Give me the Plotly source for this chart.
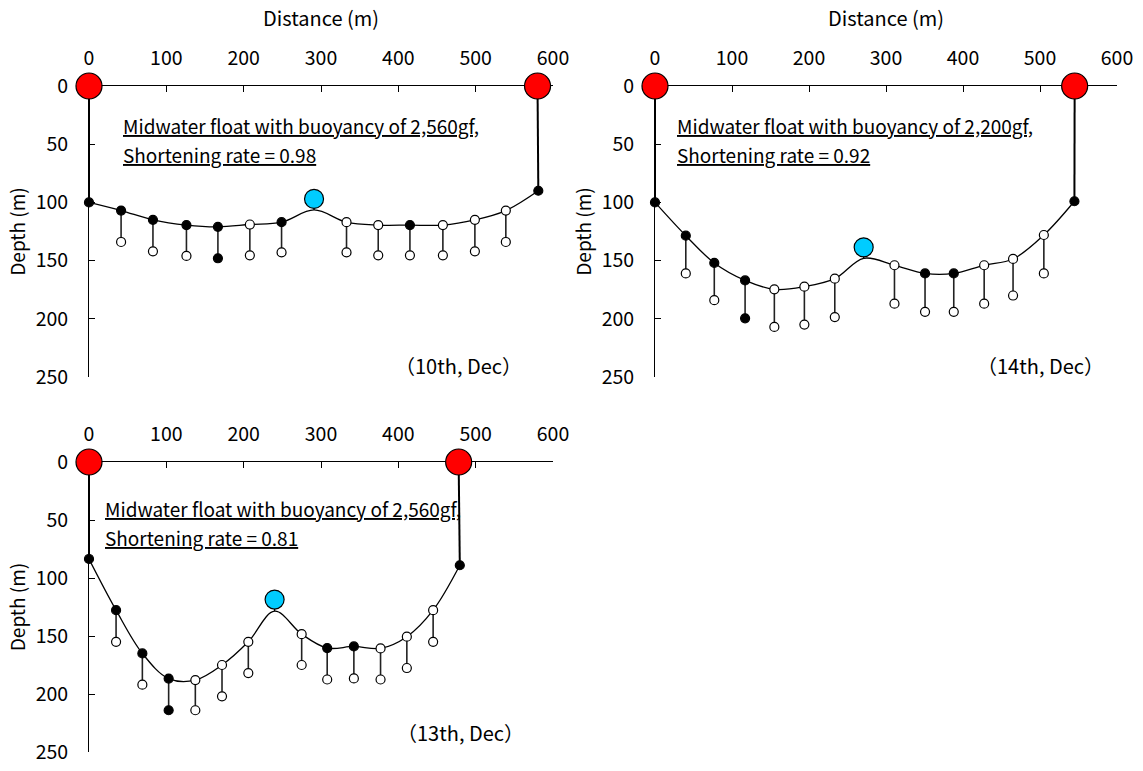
import plotly.graph_objects as go

# ---------------- data ----------------
# Panel A : 10th Dec
A_NODE_X = [0, 41.5, 82.7, 126, 166.7, 208, 249, 333, 374, 415, 457.6, 499, 539, 581]
A_NODE_DEPTH = [100, 107, 115, 119.5, 121, 119, 117, 117, 119.5, 119.5, 119.5, 115, 107, 90]
A_NODE_FILLED = [1, 1, 1, 1, 1, 0, 1, 0, 0, 1, 0, 0, 0, 1]
A_PEND_DEPTH = [134, 142, 146, 148, 145.5, 143, 143, 145.5, 145.5, 145.5, 142, 134]
A_PEND_FILLED = [0, 0, 0, 1, 0, 0, 0, 0, 0, 0, 0, 0]
A_PEAK = (291, 106.5)
A_FLOAT_DEPTH = 97
A_ANCHOR_X = [0, 580]
A_TEXT = ["Midwater float with buoyancy of 2,560gf,", "Shortening rate = 0.98"]
A_DATE = "（10th, Dec）"

# Panel B : 14th Dec
B_NODE_X = [0, 40, 77, 117, 155, 194, 233.5, 311, 350.7, 388, 427.5, 465, 505, 544.7]
B_NODE_DEPTH = [100, 128.6, 152, 167, 174.7, 172.4, 165.5, 154, 161, 161, 154, 148.6, 128, 99]
B_NODE_FILLED = [1, 1, 1, 1, 0, 0, 0, 0, 1, 1, 0, 0, 0, 1]
B_PEND_DEPTH = [161, 184, 199.6, 207, 205, 198.5, 187, 194, 194, 187, 180, 161]
B_PEND_FILLED = [0, 0, 1, 0, 0, 0, 0, 0, 0, 0, 0, 0]
B_PEAK = (271, 148)
B_FLOAT_DEPTH = 138.6
B_ANCHOR_X = [0, 545]
B_TEXT = ["Midwater float with buoyancy of 2,200gf,", "Shortening rate = 0.92"]
B_DATE = "（14th, Dec）"

# Panel C : 13th Dec
C_NODE_X = [0, 35, 69, 103, 137.5, 172, 206, 275, 308, 342.5, 377, 411, 445, 479.5]
C_NODE_DEPTH = [83.6, 127.7, 165, 186.7, 188, 175, 155, 148.4, 160.4, 159, 160.7, 150.6, 127.7, 89]
C_NODE_FILLED = [1, 1, 1, 1, 0, 0, 0, 0, 1, 1, 0, 0, 0, 1]
C_PEND_DEPTH = [155, 192, 214, 214, 202, 182, 175, 187.5, 186.6, 187.5, 177.6, 155]
C_PEND_FILLED = [0, 0, 1, 0, 0, 0, 0, 0, 0, 0, 0, 0]
C_PEAK = (240, 128.6)
C_FLOAT_DEPTH = 118.6
C_ANCHOR_X = [0, 478]
C_TEXT = ["Midwater float with buoyancy of 2,560gf,", "Shortening rate = 0.81"]
C_DATE = "（13th, Dec）"

X_TICKS = [0, 100, 200, 300, 400, 500, 600]
Y_TICKS = [0, 50, 100, 150, 200, 250]

# ---------------- figure ----------------
FONT = "Noto Sans CJK JP"
W, H = 1143, 771
fig = go.Figure()


def add_panel(ax, node_x, node_d, node_f, pend_d, pend_f, peak, float_d, anchor_x):
    xa, ya = "x" + ax, "y" + ax
    pts = sorted(list(zip(node_x, node_d)) + [peak])
    fig.add_trace(go.Scatter(x=[p[0] for p in pts], y=[p[1] for p in pts], mode="lines",
                             line=dict(color="black", width=1.3, shape="spline", smoothing=1.0),
                             xaxis=xa, yaxis=ya, cliponaxis=False, hoverinfo="skip"))
    px, py = [], []
    for nx, nd, pd in zip(node_x[1:-1], node_d[1:-1], pend_d):
        px += [nx, nx, None]
        py += [nd, pd, None]
    fig.add_trace(go.Scatter(x=px, y=py, mode="lines", line=dict(color="#222", width=1.6),
                             xaxis=xa, yaxis=ya, cliponaxis=False, hoverinfo="skip"))
    ax_x, ax_y = [], []
    for axx, nx, nd in zip(anchor_x, [node_x[0], node_x[-1]], [node_d[0], node_d[-1]]):
        ax_x += [axx, nx, None]
        ax_y += [0, nd, None]
    fig.add_trace(go.Scatter(x=ax_x, y=ax_y, mode="lines", line=dict(color="black", width=2),
                             xaxis=xa, yaxis=ya, cliponaxis=False, hoverinfo="skip"))
    fig.add_trace(go.Scatter(x=[peak[0], peak[0]], y=[peak[1], float_d], mode="lines",
                             line=dict(color="black", width=1.3),
                             xaxis=xa, yaxis=ya, cliponaxis=False, hoverinfo="skip"))
    fig.add_trace(go.Scatter(x=node_x, y=node_d, mode="markers",
                             marker=dict(size=9, color=["black" if f else "white" for f in node_f],
                                         line=dict(color="black", width=1.2)),
                             xaxis=xa, yaxis=ya, cliponaxis=False, hoverinfo="skip"))
    fig.add_trace(go.Scatter(x=node_x[1:-1], y=pend_d, mode="markers",
                             marker=dict(size=9, color=["black" if f else "white" for f in pend_f],
                                         line=dict(color="black", width=1.2)),
                             xaxis=xa, yaxis=ya, cliponaxis=False, hoverinfo="skip"))
    fig.add_trace(go.Scatter(x=[peak[0]], y=[float_d], mode="markers",
                             marker=dict(size=19, color="#00CCFF", line=dict(color="black", width=1.2)),
                             xaxis=xa, yaxis=ya, cliponaxis=False, hoverinfo="skip"))
    fig.add_trace(go.Scatter(x=anchor_x, y=[0, 0], mode="markers",
                             marker=dict(size=26, color="#FF0000", line=dict(color="black", width=1.2)),
                             xaxis=xa, yaxis=ya, cliponaxis=False, hoverinfo="skip"))


add_panel("", A_NODE_X, A_NODE_DEPTH, A_NODE_FILLED, A_PEND_DEPTH, A_PEND_FILLED, A_PEAK, A_FLOAT_DEPTH, A_ANCHOR_X)
add_panel("2", B_NODE_X, B_NODE_DEPTH, B_NODE_FILLED, B_PEND_DEPTH, B_PEND_FILLED, B_PEAK, B_FLOAT_DEPTH, B_ANCHOR_X)
add_panel("3", C_NODE_X, C_NODE_DEPTH, C_NODE_FILLED, C_PEND_DEPTH, C_PEND_FILLED, C_PEAK, C_FLOAT_DEPTH, C_ANCHOR_X)

TICK_FONT = dict(family=FONT, size=19.5, color="black")


def xaxis_cfg(dom_px, anchor, title):
    d = dict(domain=[dom_px[0] / W, dom_px[1] / W], range=[0, 600], side="top", anchor=anchor,
             tickvals=X_TICKS, ticks="inside", ticklen=6, tickcolor="black", tickwidth=1,
             showline=True, linecolor="black", linewidth=1, showgrid=False, zeroline=False,
             tickfont=TICK_FONT, ticklabelstandoff=12, automargin=False,
             layer="below traces")
    if title:
        d["title"] = dict(text=title, font=dict(family=FONT, size=20, color="black"), standoff=10)
    return d


def yaxis_cfg(dom_py, anchor):
    return dict(domain=[1 - dom_py[1] / H, 1 - dom_py[0] / H], range=[250, 0], anchor=anchor,
                tickvals=Y_TICKS, ticks="inside", ticklen=6, tickcolor="black", tickwidth=1,
                showline=True, linecolor="black", linewidth=1, showgrid=False, zeroline=False,
                tickfont=TICK_FONT, ticklabelstandoff=16, automargin=False,
                title=dict(text="Depth (m)", font=dict(family=FONT, size=19, color="black"), standoff=4),
                layer="below traces")


fig.update_layout(
    width=W, height=H, margin=dict(l=0, r=0, t=0, b=0, autoexpand=False),
    paper_bgcolor="white", plot_bgcolor="white", showlegend=False,
    xaxis=xaxis_cfg((89, 553), "y", "Distance (m)"),
    yaxis=yaxis_cfg((86, 377), "x"),
    xaxis2=xaxis_cfg((655, 1117), "y2", "Distance (m)"),
    yaxis2=yaxis_cfg((86, 377), "x2"),
    xaxis3=xaxis_cfg((89, 553), "y3", None),
    yaxis3=yaxis_cfg((462, 752), "x3"),
)

ann = []
def add_text(ax, lines, x0, ys, date, dx, dyd):
    for t, yv in zip(lines, ys):
        ann.append(dict(text=t, x=x0, y=yv, xref="x" + ax, yref="y" + ax,
                        xanchor="left", yanchor="middle", showarrow=False,
                        font=dict(family=FONT, size=19, color="black", lineposition="under")))
    ann.append(dict(text=date, x=dx, y=dyd, xref="x" + ax, yref="y" + ax,
                    xanchor="center", yanchor="middle", showarrow=False,
                    font=dict(family=FONT, size=20, color="black")))

add_text("", A_TEXT, 41.5, [34.0, 58.5], A_DATE, 478, 240)
add_text("2", B_TEXT, 26, [34.0, 58.5], B_DATE, 500, 240)
add_text("3", C_TEXT, 17.5, [40.5, 65.0], C_DATE, 480, 233.6)
fig.update_layout(annotations=ann)

fig.write_html("out.html", config={"displayModeBar": False},
               post_script="document.body.style.margin='0';document.body.style.overflow='hidden';")
